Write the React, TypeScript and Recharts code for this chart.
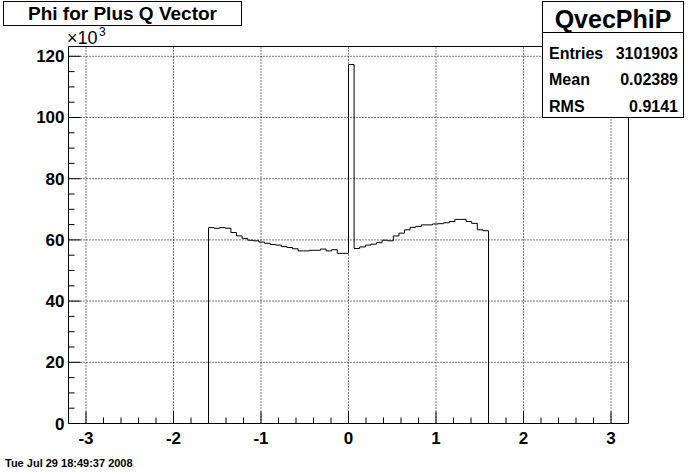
import React from 'react';
import { ComposedChart, Line, XAxis, YAxis, ReferenceLine, ReferenceArea } from 'recharts';

// histogram definition: 100 bins over [-3.2, 3.2], only the bins from -1.6 to 1.6 are filled
const X_MIN = -3.2;
const X_MAX = 3.2;
const FILLED_LOW = -1.6;
const FILLED_HIGH = 1.6;
const BIN_WIDTH = 0.064;
const Y_MAX = 123.2; // x10^3

// entries per bin (x10^3), from -1.6 upward
const COUNTS = [
  64.0, 63.8, 64.0, 63.8, 62.4, 61.3, 60.5, 59.9, 59.7, 59.3, 58.9, 58.5,
  58.3, 57.8, 57.5, 57.1, 56.4, 56.4, 56.6, 56.6, 57.0, 56.4, 56.8, 55.6, 55.6,
  117.3,
  57.2, 57.7, 58.3, 58.6, 59.1, 59.9, 59.7, 61.3, 62.2, 63.3, 64.1, 64.4,
  64.9, 64.9, 65.2, 65.3, 65.6, 66.0, 66.7, 66.7, 66.0, 65.4, 63.3, 63.0,
];

const X_MAJOR = [-3, -2, -1, 0, 1, 2, 3];
const Y_MAJOR = [0, 20, 40, 60, 80, 100, 120];
const Y_GRID = [20, 40, 60, 80, 100, 120];

const STATS = [
  { name: 'Entries', value: '3101903' },
  { name: 'Mean', value: '0.02389' },
  { name: 'RMS', value: '0.9141' },
];

// minor ticks every 0.2 on x and every 5 on y
const X_TICKS: number[] = [];
for (let i = 1; i < 32; i++) X_TICKS.push(Math.round((X_MIN + i * 0.2) * 10) / 10);
const Y_TICKS: number[] = [];
for (let v = 5; v <= 120; v += 5) Y_TICKS.push(v);
Y_TICKS.unshift(0);

const data = [
  { x: X_MIN, y: 0 },
  ...COUNTS.map((c, i) => ({ x: FILLED_LOW + i * BIN_WIDTH, y: c })),
  { x: FILLED_HIGH, y: 0 },
  { x: X_MAX, y: 0 },
];

const W = 696;
const H = 472;
const LEFT = 68.5;
const TOP = 46.5;
const RIGHT = 628.5;
const BOTTOM = 423.5;

const FONT = '"Liberation Sans", Arial, Helvetica, sans-serif';

const XTick = (props: any) => {
  const { x, payload } = props;
  const v = payload.value;
  const major = X_MAJOR.includes(v);
  return (
    <g>
      <line x1={x} x2={x} y1={BOTTOM} y2={BOTTOM - (major ? 12 : 6)} stroke="#000" />
      {major && (
        <text x={x} y={BOTTOM + 20} textAnchor="middle" fontFamily={FONT} fontWeight="bold" fontSize={17} fill="#000">
          {v}
        </text>
      )}
    </g>
  );
};

const YTick = (props: any) => {
  const { y, payload } = props;
  const v = payload.value;
  const major = Y_MAJOR.includes(v);
  return (
    <g>
      <line x1={LEFT} x2={LEFT + (major ? 12 : 6)} y1={y} y2={y} stroke="#000" />
      {major && (
        <text x={LEFT - 4} y={y + 6} textAnchor="end" fontFamily={FONT} fontWeight="bold" fontSize={17} fill="#000">
          {v}
        </text>
      )}
    </g>
  );
};

const App = () => {
  return (
    <div style={{ position: 'absolute', left: 0, top: 0, width: W, height: H, background: '#fff', fontFamily: FONT }}>
      <ComposedChart
        width={W}
        height={H}
        data={data}
        margin={{ top: TOP, right: W - RIGHT, bottom: H - BOTTOM - 1, left: LEFT - 1 }}
      >
        <XAxis
          dataKey="x"
          type="number"
          domain={[X_MIN, X_MAX]}
          ticks={X_TICKS}
          interval={0}
          height={1}
          axisLine={false}
          tickLine={false}
          tick={XTick}
          allowDataOverflow
        />
        <YAxis
          type="number"
          domain={[0, Y_MAX]}
          ticks={Y_TICKS}
          interval={0}
          width={1}
          axisLine={false}
          tickLine={false}
          tick={YTick}
          allowDataOverflow
        />
        {X_MAJOR.map((v) => (
          <ReferenceLine key={'gx' + v} x={v} stroke="#000" strokeDasharray="1 2" />
        ))}
        {Y_GRID.map((v) => (
          <ReferenceLine key={'gy' + v} y={v} stroke="#000" strokeDasharray="1 2" />
        ))}
        <ReferenceArea x1={X_MIN} x2={X_MAX} y1={0} y2={Y_MAX} fill="none" fillOpacity={0} stroke="#000" strokeOpacity={1} />
        <Line
          type="stepAfter"
          dataKey="y"
          stroke="#000"
          strokeWidth={1}
          dot={false}
          activeDot={false}
          isAnimationActive={false}
        />
      </ComposedChart>

      <div
        style={{
          position: 'absolute', left: 3, top: 1, width: 239, height: 25, boxSizing: 'border-box',
          border: '1px solid #000', background: '#fff', textAlign: 'center',
          fontSize: 19, fontWeight: 'bold', lineHeight: '23px', whiteSpace: 'nowrap',
        }}
      >
        Phi for Plus Q Vector
      </div>

      <span style={{ position: 'absolute', left: 67, top: 29, fontSize: 18, lineHeight: '18px', whiteSpace: 'nowrap' }}>
        ×10
      </span>
      <span style={{ position: 'absolute', left: 99, top: 26, fontSize: 12, lineHeight: '12px' }}>3</span>

      <div
        style={{
          position: 'absolute', left: 542, top: 1, width: 142, height: 117, boxSizing: 'border-box',
          border: '1px solid #000', background: '#fff', fontWeight: 'bold',
        }}
      >
        <div style={{ position: 'absolute', left: 0, right: 0, top: 0, textAlign: 'center', fontSize: 25, lineHeight: '34px' }}>
          QvecPhiP
        </div>
        <div style={{ position: 'absolute', left: 0, right: 0, top: 30, height: 1, background: '#000' }} />
        {STATS.map((s, i) => (
          <div
            key={s.name}
            style={{
              position: 'absolute', left: 6, right: 5, top: 37.5 + i * 26.8, height: 27, lineHeight: '27px',
              fontSize: 16, display: 'flex', justifyContent: 'space-between', whiteSpace: 'nowrap',
            }}
          >
            <span>{s.name}</span>
            <span>{s.value}</span>
          </div>
        ))}
      </div>

      <span style={{ position: 'absolute', left: 5, top: 457, fontSize: 11, fontWeight: 'bold', lineHeight: '12px', whiteSpace: 'nowrap' }}>
        Tue Jul 29 18:49:37 2008
      </span>
    </div>
  );
};

export default App;
